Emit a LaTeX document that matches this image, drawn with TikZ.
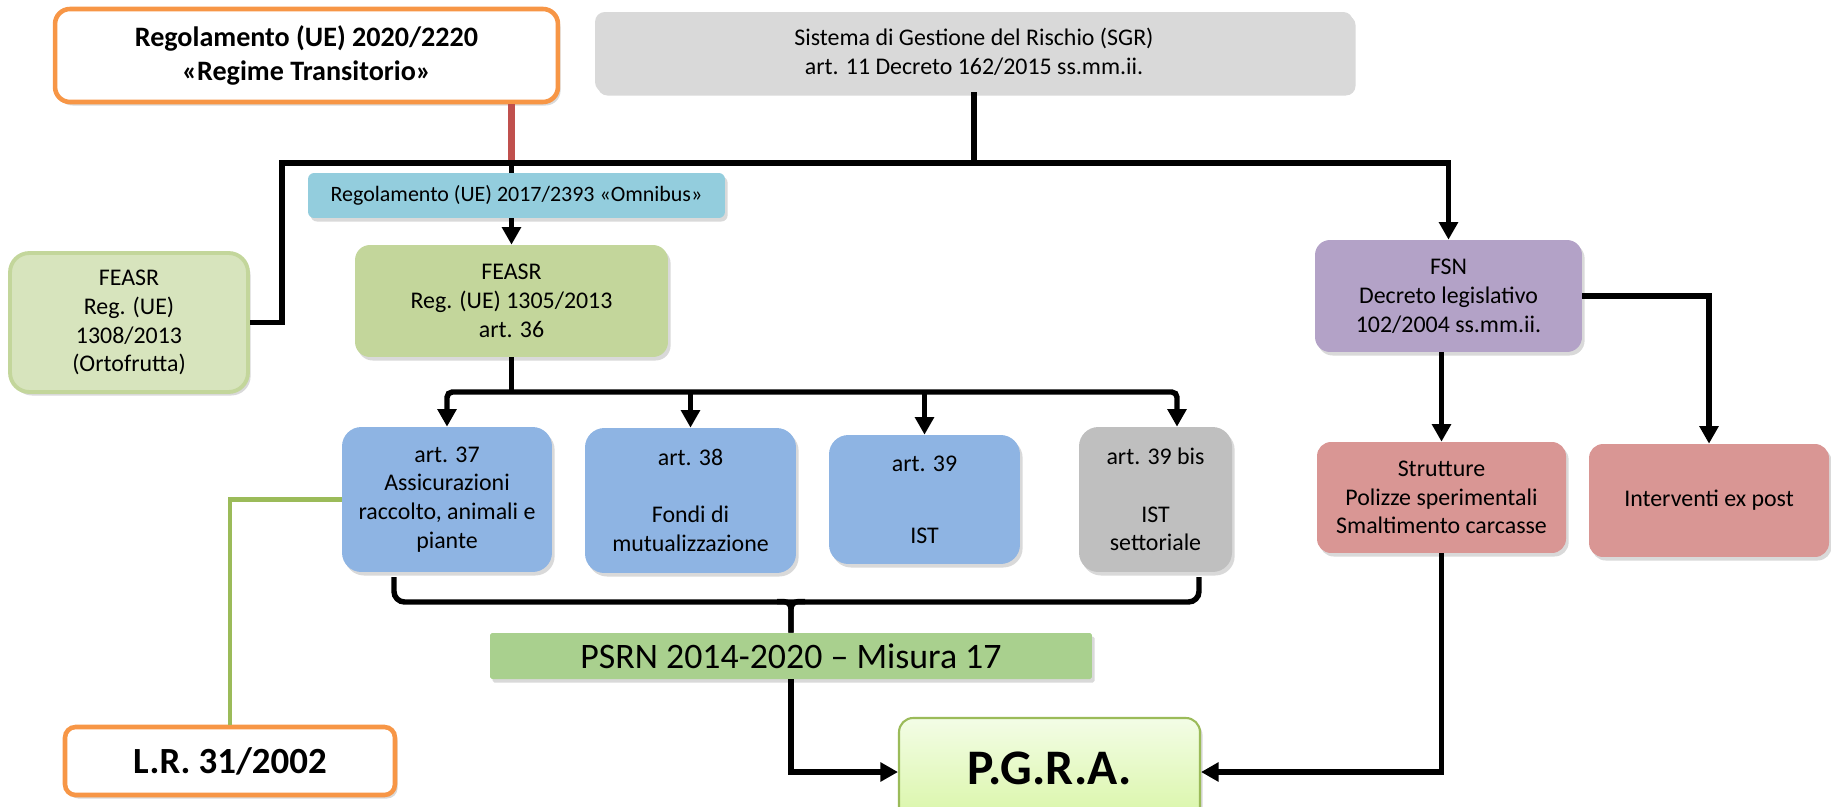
\documentclass[tikz,border=0pt]{standalone}
\usepackage{fontspec}
\setmainfont{Carlito}
\usetikzlibrary{arrows.meta,shadows}

\definecolor{orangeline}{HTML}{F79646}
\definecolor{sgrgrey}{HTML}{D9D9D9}
\definecolor{omniblue}{HTML}{93CDDD}
\definecolor{feasrlight}{HTML}{D7E4BD}
\definecolor{feasrgreen}{HTML}{C3D69B}
\definecolor{fsnpurple}{HTML}{B3A2C7}
\definecolor{artblue}{HTML}{8EB4E3}
\definecolor{bisgrey}{HTML}{BFBFBF}
\definecolor{fsnred}{HTML}{D99694}
\definecolor{psrngreen}{HTML}{A9D08E}
\definecolor{pgraline}{HTML}{9BBB59}
\definecolor{pgratop}{HTML}{F3FDE6}
\definecolor{pgrabottom}{HTML}{D8F5A4}
\definecolor{redline}{HTML}{C0504D}

\begin{document}
\begin{tikzpicture}[
    x=0.02cm, y=-0.02cm,
    box/.style={align=center, inner sep=2pt, font=\fontsize{13.6}{16.4}\selectfont,
        drop shadow={opacity=0.3, shadow xshift=1.5pt, shadow yshift=-2pt}},
    orangebox/.style={box, draw=orangeline, line width=2.6pt, fill=white,
        font=\bfseries\fontsize{16}{19.8}\selectfont},
    artbox/.style={box, fill=artblue, rounded corners=11pt, minimum height=2.9cm},
    redbox/.style={box, fill=fsnred, rounded corners=8pt},
    link/.style={line width=3.1pt, black},
    arr/.style={link, -{Triangle[length=10pt,width=10.5pt]}},
    redlink/.style={line width=3.9pt, redline},
    greenlink/.style={line width=2.7pt, pgraline}
]
    \useasboundingbox (0,0) rectangle (1831,807);

    % Top boxes
    \node[orangebox, rounded corners=8.5pt, minimum width=10.06cm, minimum height=1.86cm]
        (regtr) at (306.5,55.5) {Regolamento (UE) 2020/2220\\«Regime Transitorio»};
    \node[box, fill=sgrgrey, rounded corners=5.5pt, minimum width=15.16cm, minimum height=1.6cm]
        (sgr) at (974,52) {Sistema di Gestione del Rischio (SGR)\\art. 11 Decreto 162/2015 ss.mm.ii.};
    \node[box, fill=omniblue, rounded corners=3.5pt, minimum width=8.34cm, minimum height=0.9cm,
        font=\fontsize{12.5}{15}\selectfont]
        (omni) at (516.5,195.5) {Regolamento (UE) 2017/2393 «Omnibus»};

    % FEASR
    \node[box, fill=feasrlight, draw=feasrgreen, line width=2.2pt, rounded corners=11pt,
        minimum width=4.76cm, minimum height=2.78cm]
        (feasrl) at (129,322.5) {FEASR\\Reg. (UE)\\1308/2013\\(Ortofrutta)};
    \node[box, fill=feasrgreen, rounded corners=8.5pt, minimum width=6.26cm, minimum height=2.24cm]
        (feasr) at (511.5,301) {FEASR\\Reg. (UE) 1305/2013\\art. 36};

    % Articles
    \node[artbox, minimum width=4.2cm] (a37) at (447,499.5)
        {art. 37\\Assicurazioni\\raccolto, animali e\\piante};
    \node[artbox, minimum width=4.22cm] (a38) at (690.5,500.5)
        {art. 38\\[16.4pt]Fondi di\\mutualizzazione};
    \node[artbox, minimum width=3.82cm, minimum height=2.58cm] (a39) at (924.5,499.5)
        {art. 39\\[24.4pt]IST};
    \node[artbox, fill=bisgrey, minimum width=3.06cm] (a39b) at (1155.5,499.5)
        {art. 39 bis\\[16.4pt]IST\\settoriale};

    % FSN
    \node[box, fill=fsnpurple, rounded corners=8.5pt, minimum width=5.34cm, minimum height=2.24cm]
        (fsn) at (1448.5,296) {FSN\\Decreto legislativo\\102/2004 ss.mm.ii.};
    \node[redbox, minimum width=4.98cm, minimum height=2.22cm] (strut) at (1441.5,497.5)
        {Strutture\\Polizze sperimentali\\Smaltimento carcasse};
    \node[redbox, minimum width=4.8cm, minimum height=2.26cm] (expost) at (1709,500.5)
        {Interventi ex post};

    % Bottom
    \node[box, fill=psrngreen, rounded corners=1pt, minimum width=12.04cm, minimum height=0.92cm,
        font=\fontsize{20.4}{24}\selectfont]
        (psrn) at (791,656) {PSRN 2014-2020 – Misura 17};
    \node[orangebox, rounded corners=6pt, minimum width=6.6cm, minimum height=1.36cm,
        font=\bfseries\fontsize{21}{25}\selectfont]
        (lr) at (230,761) {L.R. 31/2002};
    \node[box, draw=pgraline, line width=1.2pt, top color=pgratop, bottom color=pgrabottom,
        rounded corners=8pt, minimum width=6.02cm, minimum height=2.16cm,
        font=\bfseries\fontsize{28.3}{32}\selectfont]
        (pgra) at (1049.5,772) {\raisebox{4.5pt}{P.G.R.A.}};

    % Bus points
    \coordinate (busL) at (282,163);
    \coordinate (busB) at (1177,392);
    \coordinate (brL) at (394,577);
    \coordinate (brR) at (1199,577);

    % Edges
    \draw[redlink] (feasr.north |- regtr.south) -- (feasr.north |- busL);
    \draw[link] (sgr.south) -- (sgr.south |- busL) -- (busL) |- (feasrl.east);
    \draw[arr] (sgr.south |- busL) -| (fsn.north);
    \draw[link] (feasr.north |- busL) -- (feasr.north |- omni.north);
    \draw[arr] (feasr.north |- omni.south) -- (feasr.north);

    \draw[link] (feasr.south) -- (feasr.south |- busB);
    \draw[link, {Triangle[length=10pt,width=10.5pt]}-{Triangle[length=10pt,width=10.5pt]}, rounded corners=3pt]
        (a37.north) |- (busB) -- (busB |- a39b.north);
    \foreach \n in {a38,a39}
        \draw[arr] (\n.north |- busB) -- (\n.north);

    % Brace under the articles
    \draw[link, rounded corners=6pt] (brL) -- ++(0,25) -| (brR);
    \draw[link, rounded corners=4pt] (psrn.north) |- ++(-14,-31);
    \draw[link, rounded corners=4pt] (psrn.north) |- ++(14,-31);

    \draw[arr] (psrn.south) |- (pgra.west);
    \draw[arr] (strut.south) |- (pgra.east);
    \draw[arr] (strut.north |- fsn.south) -- (strut.north);
    \draw[arr] (fsn.east) -| (expost.north);
    \draw[greenlink] (a37.west) -| (lr.north);
\end{tikzpicture}
\end{document}
